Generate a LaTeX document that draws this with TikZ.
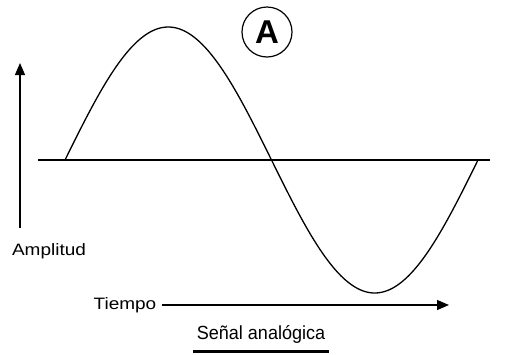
\documentclass[tikz,border=0pt]{standalone}
\usepackage{fontspec}
\setmainfont{Liberation Sans}
\usetikzlibrary{arrows.meta}
\tikzset{
  lbl/.style={inner sep=0pt, font=\fontsize{16.5}{18}\selectfont},
  axis/.style={line width=1.3pt, -{Triangle[length=12pt,width=10pt]}},
  wave/.style={line width=1.3pt},
}
\begin{document}
\begin{tikzpicture}[x=1pt,y=-1pt]
\useasboundingbox (0,0) rectangle (508,354);
\fill[white] (0,0) rectangle (508,354);
% baseline
\coordinate (b0) at (38,160);
\coordinate (b1) at (490,160);
\draw[line width=1.2pt] (b0) -- (b1);
% sine wave
\draw[wave, domain=65:478, samples=200, smooth] plot (\x, {160-133*sin(0.871671*(\x-65))});
% vertical arrow
\coordinate (v0) at (20,228);
\coordinate (v1) at (20,63);
\draw[axis] (v0) -- (v1);
\node[lbl] (amp) at (49,251) {\scalebox{1.15}[1]{Amplitud}};
% time axis
\node[lbl] (tiempo) at (125,305) {\scalebox{1.15}[1]{Tiempo}};
\coordinate (t1) at (449,305);
\draw[axis] ([xshift=6pt]tiempo.east) -- (t1);
% title
\node[inner sep=0pt, font=\fontsize{19}{21}\selectfont] (title) at (261,334) {\scalebox{0.95}[1]{Señal analógica}};
\draw[line width=3pt] (193,351) -- (329,351);
% circled A
\node[circle, draw, line width=1.2pt, minimum size=50pt, inner sep=0pt, font=\fontsize{33}{33}\bfseries\selectfont] (A) at (267,32) {A};
\end{tikzpicture}
\end{document}
